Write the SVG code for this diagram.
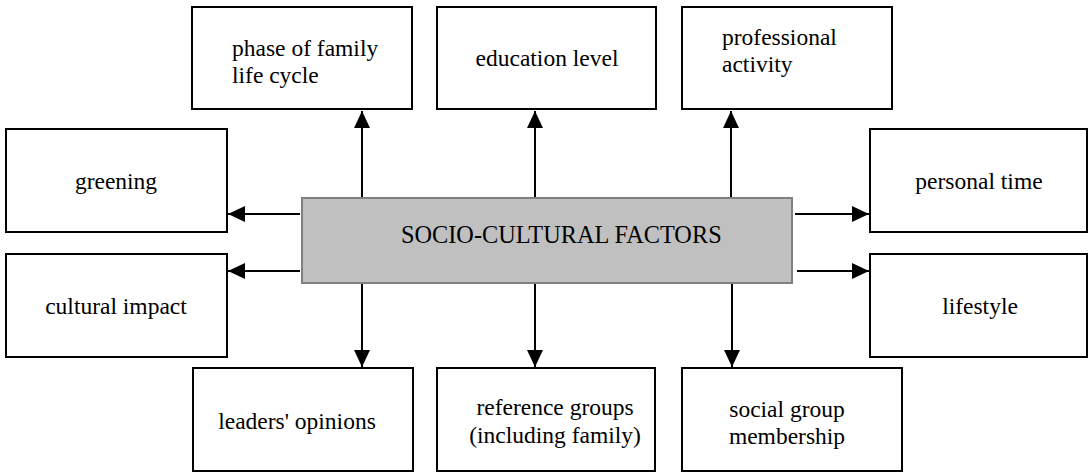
<svg xmlns="http://www.w3.org/2000/svg" width="1090" height="473" viewBox="0 0 1090 473">
<style>
.box{fill:#fff;stroke:#000;stroke-width:2}
.center{fill:#c0c0c0;stroke:#808080;stroke-width:2}
text{font-family:'Liberation Serif','DejaVu Serif',serif;font-size:23.5px;fill:#000}
.m{text-anchor:middle}
.c{stroke:#000;stroke-width:2;fill:none;marker-end:url(#ah)}
</style>
<defs>
<marker id="ah" viewBox="0 0 17 16" refX="17" refY="8" markerWidth="17" markerHeight="16" markerUnits="userSpaceOnUse" orient="auto">
<path d="M0,0 L17,8 L0,16 Z" fill="#000"/>
</marker>
</defs>
<rect width="1090" height="473" fill="#fff"/>
<g id="connectors">
<line class="c" x1="362" y1="197" x2="362" y2="111"/>
<line class="c" x1="535" y1="197" x2="535" y2="111"/>
<line class="c" x1="731" y1="197" x2="731" y2="111"/>
<line class="c" x1="362" y1="284" x2="362" y2="367"/>
<line class="c" x1="535" y1="284" x2="535" y2="367"/>
<line class="c" x1="732" y1="284" x2="732" y2="367"/>
<line class="c" x1="300" y1="214" x2="228" y2="214"/>
<line class="c" x1="300" y1="271" x2="228" y2="271"/>
<line class="c" x1="795" y1="214" x2="869" y2="214"/>
<line class="c" x1="797" y1="271" x2="869" y2="271"/>
</g>
<g id="center">
<rect class="center" x="302" y="198" width="490" height="85"/>
<text x="401" y="243" style="font-size:24.3px">SOCIO-CULTURAL FACTORS</text>
</g>
<g id="phase">
<rect class="box" x="192" y="7" width="220" height="102"/>
<text x="232" y="56">phase of family</text>
<text x="232" y="83">life cycle</text>
</g>
<g id="education">
<rect class="box" x="437" y="7" width="219" height="102"/>
<text class="m" x="547" y="66">education level</text>
</g>
<g id="professional">
<rect class="box" x="682" y="7" width="210" height="102"/>
<text x="722" y="45">professional</text>
<text x="722" y="72">activity</text>
</g>
<g id="greening">
<rect class="box" x="6" y="129" width="221" height="103"/>
<text class="m" x="116" y="189">greening</text>
</g>
<g id="personal">
<rect class="box" x="870" y="129" width="217" height="103"/>
<text class="m" x="979" y="189">personal time</text>
</g>
<g id="cultural">
<rect class="box" x="6" y="254" width="221" height="103"/>
<text class="m" x="116" y="314">cultural impact</text>
</g>
<g id="lifestyle">
<rect class="box" x="870" y="254" width="217" height="103"/>
<text class="m" x="980" y="314">lifestyle</text>
</g>
<g id="leaders">
<rect class="box" x="193" y="368" width="220" height="103"/>
<text class="m" x="297" y="429">leaders' opinions</text>
</g>
<g id="reference">
<rect class="box" x="437" y="368" width="218" height="103"/>
<text class="m" x="555" y="415">reference groups</text>
<text class="m" x="555" y="443">(including family)</text>
</g>
<g id="social">
<rect class="box" x="682" y="368" width="220" height="103"/>
<text class="m" x="787" y="417">social group</text>
<text class="m" x="787" y="444">membership</text>
</g>
</svg>
